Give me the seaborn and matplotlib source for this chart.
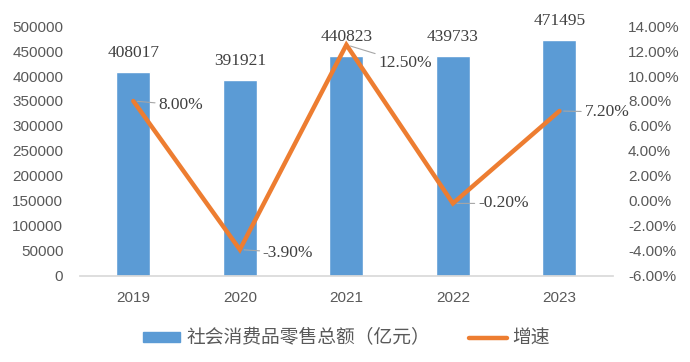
import numpy as np
import pandas as pd
import matplotlib
matplotlib.use('Agg')
import matplotlib.pyplot as plt
import seaborn as sns
from matplotlib.ticker import FuncFormatter, MultipleLocator
from matplotlib.lines import Line2D
from matplotlib.patches import Patch

years = ['2019', '2020', '2021', '2022', '2023']
sales = [408017, 391921, 440823, 439733, 471495]
growth = [8.0, -3.9, 12.5, -0.2, 7.2]
growth_labels = ['8.00%', '-3.90%', '12.50%', '-0.20%', '7.20%']

bar_color = '#5B9BD5'
line_color = '#ED7D31'
text_gray = '#595959'

sns.set_theme(style='white')
plt.rcParams['font.family'] = ['Liberation Sans', 'Noto Sans CJK SC', 'DejaVu Sans']

df = pd.DataFrame({'year': years, 'sales': sales, 'growth': growth, 'pos': np.arange(len(years))})

fig = plt.figure(figsize=(6.9, 3.62), dpi=100)
ax = fig.add_axes([0.116, 0.238, 0.772, 0.690])

sns.barplot(data=df, x='year', y='sales', color=bar_color, width=0.32,
            saturation=1, ax=ax)
ax.bar_label(ax.containers[0], labels=[str(v) for v in sales], padding=8,
             fontsize=12.5, color='#404040', family='Liberation Serif')
ax.set_ylim(0, 500000)
ax.set_xlim(-0.5, 4.5)
ax.yaxis.set_major_locator(MultipleLocator(50000))
ax.set_xlabel('')
ax.set_ylabel('')
ax.tick_params(axis='both', length=0, labelsize=11, colors=text_gray)
ax.tick_params(axis='y', pad=12)
ax.tick_params(axis='x', pad=11)
for s in ['top', 'left', 'right']:
    ax.spines[s].set_visible(False)
ax.spines['bottom'].set_color('#D9D9D9')

ax2 = ax.twinx()
sns.lineplot(data=df, x='pos', y='growth', color=line_color, linewidth=3.2,
             ax=ax2, solid_joinstyle='miter')
ax2.set_ylim(-6, 14)
ax2.set_xlim(-0.5, 4.5)
ax2.yaxis.set_major_locator(MultipleLocator(2))
ax2.yaxis.set_major_formatter(FuncFormatter(lambda v, p: f'{v:.2f}%'))
ax2.set_ylabel('')
ax2.tick_params(axis='y', length=0, labelsize=11, colors=text_gray, pad=11)
for s in ax2.spines.values():
    s.set_visible(False)

offsets = [(25, -4), (23, -3), (32, -18), (25, 0), (25, -1)]
for i, (g, lab) in enumerate(zip(growth, growth_labels)):
    ax2.annotate(lab, xy=(i, g), xytext=offsets[i], textcoords='offset pixels',
                 ha='left', va='center', fontsize=12.5, color='#404040',
                 family='Liberation Serif',
                 arrowprops=dict(arrowstyle='-', color='#A6A6A6', lw=0.8,
                                 shrinkA=0, shrinkB=3))

handles = [Patch(color=bar_color), Line2D([0], [0], color=line_color, lw=3.2)]
fig.legend(handles, ['社会消费品零售总额（亿元）', '增速'], loc='center',
           bbox_to_anchor=(0.502, 0.066), ncol=2, frameon=False,
           prop={'family': ['Noto Sans CJK SC', 'DejaVu Sans'], 'size': 13.5},
           labelcolor=text_gray, columnspacing=2.1, handlelength=2.0,
           handleheight=0.5, handletextpad=0.3)

fig.savefig('out.png', dpi=100)
